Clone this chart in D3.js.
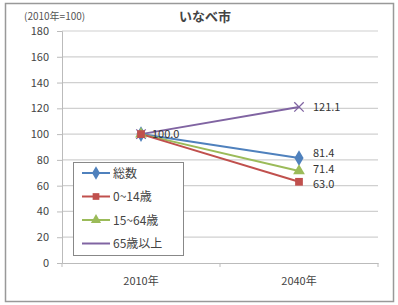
<!DOCTYPE html>
<html><head><meta charset="utf-8">
<script src="https://cdn.jsdelivr.net/npm/d3@7"></script>
<style>body{margin:0;background:#fff}svg{display:block}text{font-family:"Noto Sans CJK JP","DejaVu Sans",sans-serif}</style>
</head><body><svg id="c" width="398" height="305"></svg>
<script>
const categories = ["2010年", "2040年"];
const seriesNames = ["総数", "0~14歳", "15~64歳", "65歳以上"];
const total = [100.0, 81.4];
const young = [100.0, 63.0];
const working = [100.0, 71.4];
const elderly = [100.0, 121.1];
const yTicks = [0, 20, 40, 60, 80, 100, 120, 140, 160, 180];
const colors = ["#4F81BD", "#C0504D", "#9BBB59", "#8064A2"];
const markers = ["diamond", "square", "triangle", "x"];
const seriesValues = [total, young, working, elderly];

const svg = d3.select("#c");
svg.append("rect").attr("x",5.5).attr("y",3.5).attr("width",388).attr("height",298)
  .attr("fill","#fff").attr("stroke","#999").attr("stroke-width",1.5);

const m = {l:62, r:378, t:31, b:263};
const x = d3.scaleBand().domain(categories).range([m.l, m.r]);
const y = d3.scaleLinear().domain([0,180]).range([m.b, m.t]);

svg.append("g").selectAll("line").data(yTicks.filter(d=>d>0)).join("line")
  .attr("x1",m.l).attr("x2",m.r).attr("y1",d=>y(d)).attr("y2",d=>y(d))
  .attr("stroke","#d0d0d0").attr("stroke-width",1.2);

const ya = svg.append("g").attr("transform",`translate(${m.l},0)`)
  .call(d3.axisLeft(y).tickValues(yTicks).tickSize(5).tickPadding(8));
ya.select(".domain").attr("stroke","#bbb");
ya.selectAll(".tick line").attr("stroke","#bbb");
ya.selectAll("text").attr("font-size",11).attr("fill","#444").attr("font-family","Liberation Sans, sans-serif");

const xa = svg.append("g").attr("transform",`translate(0,${m.b})`)
  .call(d3.axisBottom(x).tickSize(0).tickPadding(14));
xa.select(".domain").attr("stroke","#bbb");
xa.selectAll("text").attr("font-size",11).attr("fill","#444");
svg.append("g").selectAll("line").data([m.l, (m.l+m.r)/2, m.r]).join("line")
  .attr("x1",d=>d).attr("x2",d=>d).attr("y1",m.b).attr("y2",m.b+4).attr("stroke","#bbb");

const cx = c => x(c) + x.bandwidth()/2;
const line = d3.line().x((d,i)=>cx(categories[i])).y(d=>y(d));

function marker(g, type, color, size){
  if(type==="diamond") g.append("path").attr("d",d3.symbol(d3.symbolDiamond, size*1.2)()).attr("fill",color);
  else if(type==="square") g.append("path").attr("d",d3.symbol(d3.symbolSquare, size)()).attr("fill",color);
  else if(type==="triangle") g.append("path").attr("d",d3.symbol(d3.symbolTriangle, size)()).attr("fill",color);
  else g.append("path").attr("d",d3.symbol(d3.symbolX, size)()).attr("fill","none").attr("stroke",color).attr("stroke-width",1.3);
}

const order = [3,0,2,1];
order.forEach(si=>{
  svg.append("path").datum(seriesValues[si]).attr("d",line)
    .attr("fill","none").attr("stroke",colors[si]).attr("stroke-width",2);
});
order.forEach(si=>{
  seriesValues[si].forEach((v,i)=>{
    const g = svg.append("g").attr("transform",`translate(${cx(categories[i])},${y(v)})`);
    marker(g, markers[si], colors[si], 60);
  });
});

svg.append("text").attr("x",cx(categories[0])+11).attr("y",y(100)+4).attr("font-size",11)
  .attr("fill","#333").attr("font-family","Liberation Sans, sans-serif").text(d3.format(".1f")(total[0]));
const labelOffsets = [[total[1],-1],[working[1],2],[young[1],6],[elderly[1],4]];
labelOffsets.forEach(([v,dy])=>{
  svg.append("text").attr("x",cx(categories[1])+14).attr("y",y(v)+dy).attr("font-size",11)
    .attr("fill","#333").attr("font-family","Liberation Sans, sans-serif").text(d3.format(".1f")(v));
});

svg.append("text").attr("x",205).attr("y",21).attr("text-anchor","middle").attr("font-size",13)
  .attr("font-weight","bold").attr("fill","#444").text("いなべ市");
svg.append("text").attr("x",24).attr("y",20).attr("font-size",10).attr("fill","#555").text("(2010年=100)");

const lg = svg.append("g");
lg.append("rect").attr("x",73.5).attr("y",162.5).attr("width",110).attr("height",93)
  .attr("fill","#fff").attr("stroke","#888").attr("stroke-width",1);
seriesNames.forEach((n,i)=>{
  const yy = 173 + i*23.5;
  lg.append("line").attr("x1",82).attr("x2",110).attr("y1",yy).attr("y2",yy).attr("stroke",colors[i]).attr("stroke-width",2);
  if(i<3){ const g=lg.append("g").attr("transform",`translate(96,${yy})`); marker(g, markers[i], colors[i], 45); }
  lg.append("text").attr("x",113).attr("y",yy+4.5).attr("font-size",12).attr("fill","#444").text(n);
});
</script></body></html>
